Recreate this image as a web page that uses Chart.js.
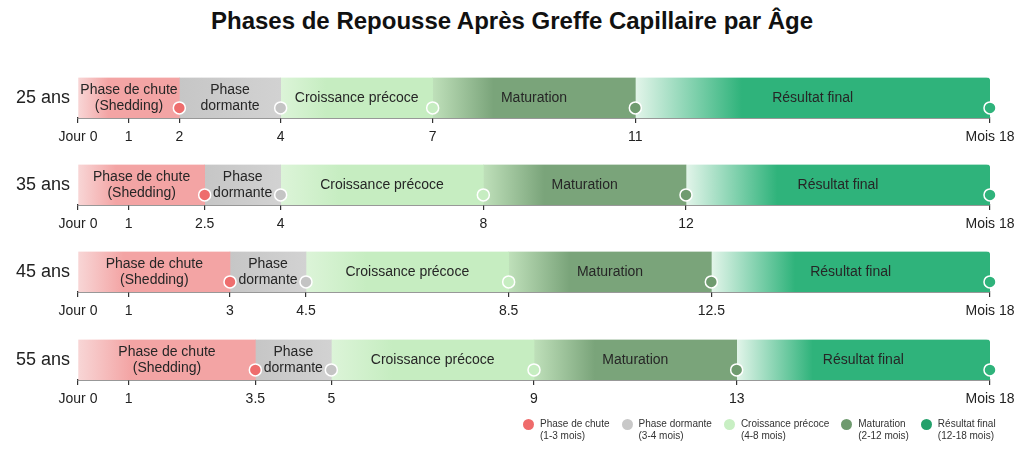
<!DOCTYPE html>
<html lang="fr">
<head>
<meta charset="utf-8">
<script src="https://cdn.jsdelivr.net/npm/chart.js@4.4.0/dist/chart.umd.min.js"></script>
<style>
  html, body { margin: 0; padding: 0; background: #fff; }
  body { width: 1024px; height: 470px; position: relative; overflow: hidden; font-family: "Liberation Sans", Arial, sans-serif; }
  #title { position: absolute; top: 7px; left: 0; width: 1024px; text-align: center; font-weight: bold; font-size: 24px; color: #111; }
  .row { position: absolute; left: 0; width: 1024px; height: 87px; }
  #legend { position: absolute; left: 523px; top: 418px; display: flex; gap: 12px; font-size: 10px; color: #333; line-height: 12px; }
  #legend .item { display: flex; align-items: flex-start; }
  #legend .dot { width: 11px; height: 11px; border-radius: 50%; margin: 1px 6px 0 0; }
</style>
</head>
<body>
<div id="title">Phases de Repousse Après Greffe Capillaire par Âge</div>
<div class="row" style="top:70px"><canvas id="row0"></canvas></div>
<div class="row" style="top:157px"><canvas id="row1"></canvas></div>
<div class="row" style="top:244px"><canvas id="row2"></canvas></div>
<div class="row" style="top:332px"><canvas id="row3"></canvas></div>
<div id="legend"></div>

<script>
// Data
const ages = ["25 ans", "35 ans", "45 ans", "55 ans"];
const phases = ["Phase de chute", "Phase dormante", "Croissance précoce", "Maturation", "Résultat final"];
const phaseLabels = [["Phase de chute", "(Shedding)"], ["Phase", "dormante"], ["Croissance précoce"], ["Maturation"], ["Résultat final"]];
const phaseRanges = ["(1-3 mois)", "(3-4 mois)", "(4-8 mois)", "(2-12 mois)", "(12-18 mois)"];

// phase boundaries in months, one list per age
const bounds25 = [0, 2, 4, 7, 11, 18];
const bounds35 = [0, 2.5, 4, 8, 12, 18];
const bounds45 = [0, 3, 4.5, 8.5, 12.5, 18];
const bounds55 = [0, 3.5, 5, 9, 13, 18];
const allBounds = [bounds25, bounds35, bounds45, bounds55];
const extraTick = 1;

// Colours: [left fade, main]
const segColors = [
  ["#f8d6d6", "#f3a4a4"],
  ["#c6c6c6", "#d2d2d2"],
  ["#dcf4d8", "#c6edc1"],
  ["#bfe0ba", "#7aa47a"],
  ["#e3f5ea", "#2fb37b"],
];
const markerColors = ["#ee6d6d", "#c4c4c4", "#c6edc1", "#6f9b6f", "#2fb37b"];
const legendColors = ["#ef6b6b", "#c8c8c8", "#c8efc3", "#6e9a6e", "#22a06a"];

const FONT = "'Liberation Sans', Arial, sans-serif";

function segGradient(i) {
  return (ctx) => {
    const chart = ctx.chart;
    const xs = chart.scales.x;
    const raw = ctx.raw;
    if (!xs || !chart.chartArea || !Array.isArray(raw)) return segColors[i][1];
    const x0 = xs.getPixelForValue(raw[0]);
    const x1 = xs.getPixelForValue(raw[1]);
    const g = chart.ctx.createLinearGradient(x0, 0, x1, 0);
    g.addColorStop(0, segColors[i][0]);
    g.addColorStop(i === 1 ? 1 : 0.3, segColors[i][1]);
    g.addColorStop(1, segColors[i][1]);
    return g;
  };
}

// draws the phase names inside each segment
const segmentLabels = {
  id: "segmentLabels",
  afterDatasetsDraw(chart) {
    const ctx = chart.ctx;
    ctx.save();
    ctx.font = "14px " + FONT;
    ctx.fillStyle = "#262626";
    ctx.textAlign = "center";
    ctx.textBaseline = "middle";
    chart.data.datasets.forEach((ds, di) => {
      if (ds.type === "scatter") return;
      const el = chart.getDatasetMeta(di).data[0];
      const { x, base, y } = el.getProps(["x", "base", "y"], true);
      const lines = phaseLabels[di];
      const cx = (x + base) / 2;
      lines.forEach((t, k) => ctx.fillText(t, cx, y + (k - (lines.length - 1) / 2) * 16));
    });
    ctx.restore();
  },
};

function buildRow(canvasId, age, b) {
  const datasets = phases.map((p, i) => ({
    label: p,
    data: [[b[i], b[i + 1]]],
    backgroundColor: segGradient(i),
    borderWidth: 0,
    borderSkipped: false,
    borderRadius: i === phases.length - 1 ? { topRight: 4, bottomRight: 0, topLeft: 0, bottomLeft: 0 } : 0,
    barPercentage: 1,
    categoryPercentage: 1,
    grouped: false,
    order: 1,
  }));

  datasets.push({
    type: "scatter",
    label: "markers",
    data: b.slice(1).map((v) => ({ x: v, y: 0 })),
    xAxisID: "x",
    yAxisID: "y2",
    pointRadius: 6,
    pointBackgroundColor: markerColors,
    pointBorderColor: "#ffffff",
    pointBorderWidth: 1.5,
    clip: false,
    order: 0,
  });

  const tickValues = [0, extraTick].concat(b.slice(1));

  return new Chart(document.getElementById(canvasId), {
    type: "bar",
    data: { labels: [age], datasets },
    options: {
      indexAxis: "y",
      responsive: true,
      maintainAspectRatio: false,
      animation: false,
      layout: { padding: { top: 6, right: 34, left: 0, bottom: 0 } },
      plugins: { legend: { display: false }, tooltip: { enabled: false } },
      scales: {
        x: {
          type: "linear",
          min: 0,
          max: 18,
          afterBuildTicks: (s) => { s.ticks = tickValues.map((v) => ({ value: v })); },
          afterFit: (s) => { s.height = 39; },
          ticks: {
            autoSkip: false,
            maxRotation: 0,
            padding: 6,
            color: "#222",
            font: { family: FONT, size: 14 },
            callback: (v) => (v === 0 ? "Jour 0" : v === 18 ? "Mois 18" : String(v)),
          },
          grid: { display: true, drawOnChartArea: false, drawTicks: true, tickLength: 5, color: "#333", lineWidth: 1.2 },
          border: { display: true, color: "#333", width: 1.5 },
        },
        y: {
          type: "category",
          afterFit: (s) => { s.width = 78; s.paddingTop = 0; s.paddingBottom = 0; },
          grid: { display: false, drawTicks: false },
          border: { display: false },
          ticks: { color: "#222", padding: 8, font: { family: FONT, size: 18 } },
        },
        y2: {
          type: "linear",
          axis: "y",
          display: false,
          min: 0,
          max: 1,
        },
      },
    },
    plugins: [segmentLabels],
  });
}

ages.forEach((age, r) => buildRow("row" + r, age, allBounds[r]));

// Legend
const legend = document.getElementById("legend");
phases.forEach((p, i) => {
  const item = document.createElement("div");
  item.className = "item";
  item.innerHTML = `<span class="dot" style="background:${legendColors[i]}"></span><span>${p}<br>${phaseRanges[i]}</span>`;
  legend.appendChild(item);
});
</script>
</body>
</html>
